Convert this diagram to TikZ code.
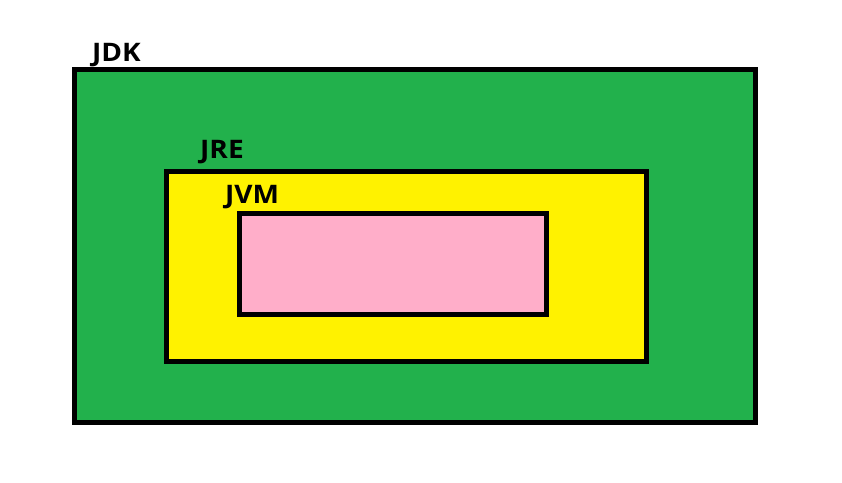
\documentclass[tikz,border=0pt]{standalone}
\usepackage{fontspec}
\setmainfont{Open Sans}
\newfontfamily\labelfont[FakeStretch=1.1]{Open Sans Bold}
\definecolor{jdkgreen}{RGB}{34,177,76}
\definecolor{jreyellow}{RGB}{255,242,0}
\definecolor{jvmpink}{RGB}{255,174,201}
\begin{document}
\begin{tikzpicture}[x=1pt,y=-1pt,
  box/.style={draw=black,line width=5pt,rectangle,inner sep=0pt},
  lbl/.style={anchor=base west,inner sep=0pt,font=\fontsize{25.5}{30}\labelfont}]
\useasboundingbox[fill=white] (0,0) rectangle (842,482);
\node[box,fill=jdkgreen,minimum width=681pt,minimum height=353pt] (jdk) at (415,245.5) {};
\node[box,fill=jreyellow,minimum width=480pt,minimum height=190pt] (jre) at (406.5,266.5) {};
\node[box,fill=jvmpink,minimum width=307pt,minimum height=101pt] (jvm) at (393,263.5) {};
\node[lbl] (jdklabel) at (92,61) {JDK};
\node[lbl] (jrelabel) at (200,158) {JRE};
\node[lbl] (jvmlabel) at (225,203) {JVM};
\end{tikzpicture}
\end{document}
